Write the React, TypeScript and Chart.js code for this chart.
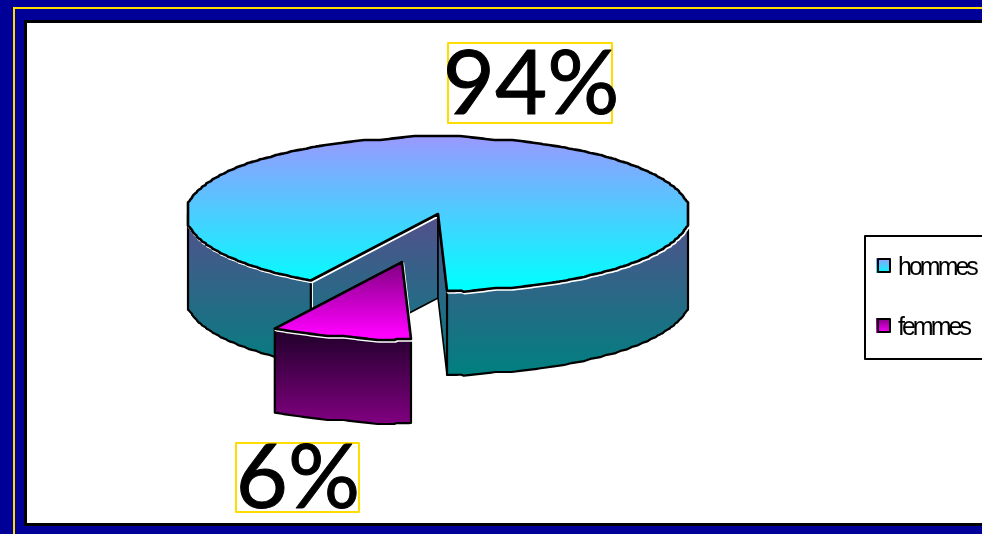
import React, { useEffect, useRef } from "react";
import { Chart, registerables } from "chart.js";

Chart.register(...registerables);

const categories = ["hommes", "femmes"];
const shares = [94, 6];
const explode = [0, 141];
const faceStops = [["#9999ff", "#00ffff"], ["#800080", "#ff00ff"]];
const wallStops = [["#54508c", "#008080"], ["#1e0028", "#800080"]];
const labelBoxes = [
  { x: 448, y: 43, w: 164, h: 80, tx: 531, by: 114 },
  { x: 236, y: 443, w: 123, h: 69, tx: 298, by: 508 },
];

const FACE_CY = 214;
const SQUASH = 77 / 252;
const DEPTH = 84;
const FRONT_WARP = 1.58;
const LIFT = 1.154;
const LABEL_FONT = "Lato";
const EDGE_GRID = 4;
const EDGE_SOFTEN = 7;

const wrapPi = (a: number) => Math.atan2(Math.sin(a), Math.cos(a));
const warp = (t: number) => t + wrapPi(Math.atan2(FRONT_WARP * Math.sin(t), Math.cos(t)) - t);

// The reference's outline is an enlarged low-resolution raster: snap to a coarse grid, then soften.
const roughen = (pts: number[][]) => {
  const q = pts.map((p) => [Math.round(p[0] / EDGE_GRID) * EDGE_GRID, Math.round(p[1] / EDGE_GRID) * EDGE_GRID, p[2]]);
  const w = EDGE_SOFTEN;
  return pts.map((p, i) => {
    if (i < w || i >= pts.length - w) return p;
    let x = 0;
    let y = 0;
    for (let k = -w; k <= w; k++) {
      x += q[i + k][0];
      y += q[i + k][1];
    }
    return [x / (2 * w + 1), y / (2 * w + 1), p[2]];
  });
};

const pie3d = {
  id: "pie3d",
  beforeDatasetDraw(chart: any) {
    const ctx = chart.ctx as CanvasRenderingContext2D;
    const arcs = chart.getDatasetMeta(0).data;

    const linGrad = (stops: string[], y0: number, y1: number) => {
      const g = ctx.createLinearGradient(0, y0, 0, y1);
      g.addColorStop(0, stops[0]);
      g.addColorStop(1, stops[1]);
      return g;
    };
    const trace = (pts: number[][]) => {
      ctx.beginPath();
      pts.forEach((p, i) => (i ? ctx.lineTo(p[0], p[1]) : ctx.moveTo(p[0], p[1])));
      ctx.closePath();
    };
    const paint = (pts: number[][], fill: CanvasGradient, lw: number) => {
      ctx.save();
      ctx.lineJoin = "round";
      ctx.translate(1, 1.5);
      trace(pts);
      ctx.strokeStyle = "#ffffff";
      ctx.lineWidth = lw;
      ctx.stroke();
      ctx.restore();
      ctx.lineJoin = "round";
      trace(pts);
      ctx.fillStyle = fill;
      ctx.fill();
      ctx.strokeStyle = "#000000";
      ctx.lineWidth = lw;
      ctx.stroke();
    };

    arcs.forEach((arc: any, i: number) => {
      const R = arc.outerRadius;
      const t0 = arc.startAngle - Math.PI / 2;
      const t1 = arc.endAngle - Math.PI / 2;
      const off = explode[i];
      const tm = warp((t0 + t1) / 2);
      const ex = -off * Math.sin(tm);
      const ey = off * SQUASH * Math.cos(tm) * LIFT;
      const cx = arc.x + ex;
      const cy = FACE_CY + ey;
      const rim = (t: number) => {
        const p = warp(t);
        return [cx - R * Math.sin(p), cy + R * SQUASH * Math.cos(p), Math.cos(p)];
      };
      const exact: number[][] = [];
      const n = Math.max(8, Math.ceil((t1 - t0) / 0.006));
      for (let s = 0; s <= n; s++) exact.push(rim(t0 + ((t1 - t0) * s) / n));
      const samples = roughen(exact);

      const ys = exact.map((p) => p[1]);
      const frontYs = exact.filter((p) => p[2] >= 0).map((p) => p[1]);
      const wallFill = linGrad(wallStops[i], Math.min(...frontYs), Math.max(...frontYs) + DEPTH);
      const faceFill = linGrad(faceStops[i], Math.min(cy, ...ys), Math.max(...ys) - 4);

      [samples[0], samples[n]].forEach((e) => {
        paint(
          [[cx, cy], [e[0], e[1]], [e[0], e[1] + DEPTH], [cx, cy + DEPTH]],
          wallFill,
          1.6
        );
      });

      let run: number[][] = [];
      const flush = () => {
        if (run.length > 1) {
          const back = run.slice().reverse().map((p) => [p[0], p[1] + DEPTH]);
          paint([...run, ...back], wallFill, 2.2);
        }
        run = [];
      };
      samples.forEach((p) => {
        if (p[2] >= 0) run.push(p);
        else flush();
      });
      flush();

      paint([[cx, cy], ...samples], faceFill, 2.6);
    });
    return false;
  },
  beforeDraw(chart: any) {
    const ctx = chart.ctx as CanvasRenderingContext2D;
    const { width, height } = chart;
    ctx.save();
    ctx.fillStyle = "#000099";
    ctx.fillRect(0, 0, width, height);
    ctx.strokeStyle = "#ffdd00";
    ctx.lineWidth = 2;
    ctx.strokeRect(14, 8, width + 20, height + 20);
    ctx.fillStyle = "#000000";
    ctx.fillRect(24, 20, width, 506);
    ctx.fillStyle = "#ffffff";
    ctx.fillRect(27, 23, width, 500);
    ctx.restore();
  },
  afterDraw(chart: any) {
    const ctx = chart.ctx as CanvasRenderingContext2D;
    ctx.save();
    // value labels
    shares.forEach((v, i) => {
      const b = labelBoxes[i];
      ctx.strokeStyle = "#ffdd00";
      ctx.lineWidth = 2;
      ctx.strokeRect(b.x, b.y, b.w, b.h);
      ctx.font = `90px ${LABEL_FONT}`;
      ctx.textAlign = "center";
      ctx.textBaseline = "alphabetic";
      ctx.fillStyle = "#000000";
      ctx.strokeStyle = "#000000";
      ctx.lineWidth = 1;
      ctx.lineJoin = "round";
      ctx.fillText(`${v}%`, b.tx, b.by);
      ctx.strokeText(`${v}%`, b.tx, b.by);
    });
    // legend
    ctx.fillStyle = "#ffffff";
    ctx.strokeStyle = "#000000";
    ctx.lineWidth = 2;
    ctx.fillRect(865, 236, 140, 123);
    ctx.strokeRect(865, 236, 140, 123);
    categories.forEach((c, i) => {
      const y = 258 + i * 60;
      const g = ctx.createLinearGradient(0, y, 0, y + 15);
      g.addColorStop(0, faceStops[i][0]);
      g.addColorStop(1, faceStops[i][1]);
      ctx.fillStyle = g;
      ctx.fillRect(876, y, 14, 15);
      ctx.strokeStyle = "#000000";
      ctx.lineWidth = 2;
      ctx.strokeRect(878, y + 1, 12, 13);
      ctx.fillStyle = "#000000";
      ctx.font = "25px 'Liberation Sans'";
      ctx.textAlign = "left";
      (ctx as any).letterSpacing = "-3px";
      ctx.fillText(c, 898, y + 17);
      (ctx as any).letterSpacing = "0px";
    });
    ctx.restore();
  },
};

export default function App() {
  const ref = useRef<HTMLCanvasElement>(null);
  useEffect(() => {
    const chart = new Chart(ref.current as HTMLCanvasElement, {
      type: "pie",
      data: {
        labels: categories,
        datasets: [{ data: shares, backgroundColor: ["#00ffff", "#ff00ff"], borderWidth: 0 }],
      },
      options: {
        animation: false,
        responsive: false,
        rotation: 200.3,
        radius: 252,
        layout: { padding: { left: 186, right: 292, top: 15, bottom: 15 } },
        plugins: { legend: { display: false }, tooltip: { enabled: false } },
      },
      plugins: [pie3d],
    } as any);
    return () => chart.destroy();
  }, []);
  return (
    <div style={{ position: "fixed", left: 0, top: 0, width: 982, height: 534, overflow: "hidden" }}>
      <canvas ref={ref} width={982} height={534} style={{ display: "block" }} />
    </div>
  );
}
